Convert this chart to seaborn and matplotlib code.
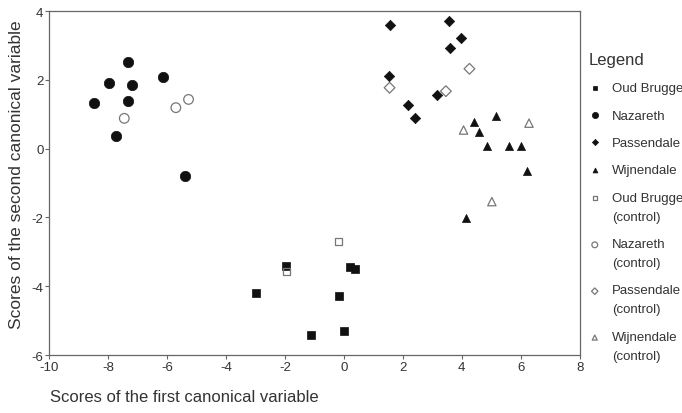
import numpy as np
import pandas as pd
import seaborn as sns
import matplotlib.pyplot as plt
from matplotlib.legend_handler import HandlerPathCollection

# canonical scores
oud_x = [-2.99, -1.95, -1.12, -0.18, 0.00, 0.20, 0.38]
oud_y = [-4.20, -3.41, -5.42, -4.28, -5.31, -3.43, -3.50]
naz_x = [-8.49, -7.96, -7.34, -7.20, -7.31, -7.74, -6.12, -5.38]
naz_y = [1.32, 1.91, 2.53, 1.85, 1.38, 0.36, 2.07, -0.80]
pas_x = [1.56, 3.57, 3.97, 3.61, 1.54, 3.16, 2.19, 2.41]
pas_y = [3.59, 3.71, 3.22, 2.92, 2.12, 1.55, 1.26, 0.89]
wij_x = [4.41, 5.16, 4.59, 4.86, 5.60, 6.02, 6.22, 4.15]
wij_y = [0.78, 0.94, 0.49, 0.08, 0.08, 0.08, -0.66, -2.01]

oud_c_x = [-0.18, -1.95]
oud_c_y = [-2.69, -3.57]
naz_c_x = [-7.45, -5.70, -5.27]
naz_c_y = [0.88, 1.19, 1.43]
pas_c_x = [4.26, 1.55, 3.46]
pas_c_y = [2.32, 1.77, 1.67]
wij_c_x = [4.06, 6.28, 5.02]
wij_c_y = [0.54, 0.74, -1.54]

groups = [
    ("Oud Brugge", oud_x, oud_y, "s", 34, True),
    ("Nazareth", naz_x, naz_y, "o", 56, True),
    ("Passendale", pas_x, pas_y, "D", 28, True),
    ("Wijnendale", wij_x, wij_y, "^", 34, True),
    ("Oud Brugge\n(control)", oud_c_x, oud_c_y, "s", 24, False),
    ("Nazareth\n(control)", naz_c_x, naz_c_y, "o", 48, False),
    ("Passendale\n(control)", pas_c_x, pas_c_y, "D", 30, False),
    ("Wijnendale\n(control)", wij_c_x, wij_c_y, "^", 36, False),
]


class FirstLineHandler(HandlerPathCollection):
    # keep the marker level with the first line of a two-line label
    def __init__(self, shift, **kw):
        super().__init__(**kw)
        self.shift = shift

    def get_ydata(self, legend, xdescent, ydescent, width, height, fontsize):
        y = super().get_ydata(legend, xdescent, ydescent, width, height, fontsize)
        return np.asarray(y) + self.shift


sns.set_style("white")
plt.rcParams['font.family'] = ['Liberation Sans', 'DejaVu Sans']
plt.rcParams['axes.unicode_minus'] = False

fig = plt.figure(figsize=(6.82, 4.14), dpi=100)
ax = fig.add_axes([0.072, 0.140, 0.778, 0.831])

for name, xs, ys, mk, size, filled in groups:
    df = pd.DataFrame({"x": xs, "y": ys})
    if filled:
        sns.scatterplot(data=df, x="x", y="y", marker=mk, s=size, color="#111111",
                        edgecolor="#111111", linewidth=0.5, label=name, ax=ax)
    else:
        sns.scatterplot(data=df, x="x", y="y", marker=mk, s=size, facecolor="none",
                        edgecolor="#777777", linewidth=0.9, label=name, ax=ax)

ax.set_xlim(-10, 8)
ax.set_ylim(-6, 4)
ax.set_xticks(np.arange(-10, 9, 2))
ax.set_yticks(np.arange(-6, 5, 2))
for s in ax.spines.values():
    s.set_color("#666666")
    s.set_linewidth(0.9)
ax.tick_params(axis="both", direction="out", length=3, width=0.8, color="#666666",
               labelsize=9.5, labelcolor="#333333", pad=1, left=True, bottom=True)

ax.set_xlabel("")
ax.set_ylabel("Scores of the second canonical variable", fontsize=12.5, color="#333333")
ax.yaxis.set_label_coords(-0.048, 0.526)
fig.text(0.073, 0.04, "Scores of the first canonical variable", fontsize=12,
         color="#333333", ha="left", va="center")

handles, labels = ax.get_legend_handles_labels()
hmap = {h: FirstLineHandler(7) for h, l in zip(handles, labels) if "\n" in l}
leg = ax.legend(handles, labels, handler_map=hmap, title="Legend", loc="upper left",
                bbox_to_anchor=(1.006, 0.897), frameon=False, fontsize=9.5,
                title_fontsize=12, handletextpad=0.8, handlelength=1.0,
                labelspacing=1.15, borderaxespad=0, markerscale=0.6)
leg._legend_box.align = "left"
for t in leg.get_texts():
    t.set_color("#333333")
    t.set_linespacing(1.8)
leg.get_title().set_color("#333333")

fig.savefig("out.png", dpi=100, facecolor="white")
